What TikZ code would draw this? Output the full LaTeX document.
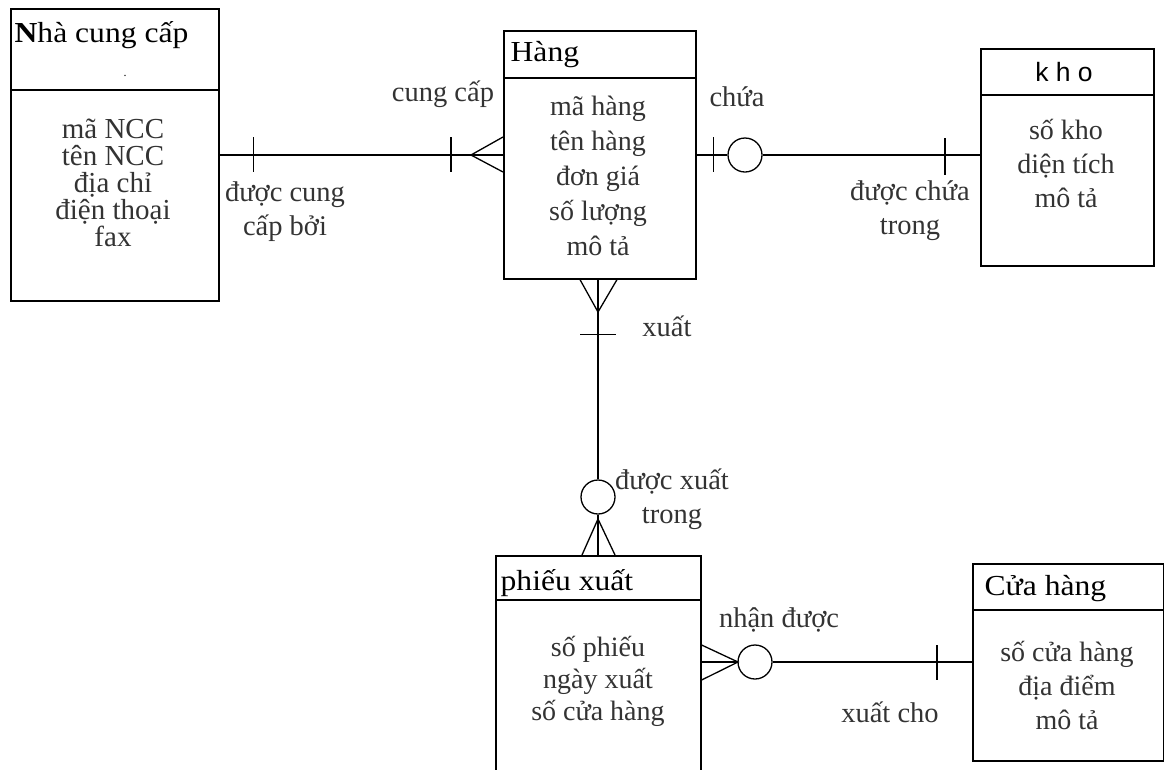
\documentclass[tikz,border=0pt]{standalone}
\usepackage{fontspec}
\setmainfont{Liberation Serif}
\newfontfamily\sansf{Liberation Sans}
\newfontfamily\ttlf[FakeStretch=1.09]{Liberation Serif}
\usetikzlibrary{calc}
\definecolor{txt}{HTML}{333333}
\begin{document}
\begin{tikzpicture}[x=1pt,y=-1pt,line width=1.3pt,
  ebox/.style={draw,line width=1.6pt,anchor=north west,inner sep=0pt},
  ttl/.style={anchor=base west,inner sep=0pt,font=\ttlf\fontsize{29}{30}\selectfont,text=black},
  attr/.style={align=center,inner sep=0pt,text=txt},
  lbl/.style={align=center,inner sep=0pt,text=txt,font=\fontsize{28.5}{34}\selectfont},
  opt/.style={circle,draw,line width=1.3pt,minimum size=34pt,inner sep=0pt}]
\useasboundingbox (0,0) rectangle (1164,769);
% entities
\node[ebox,minimum width=208pt,minimum height=292pt] (ncc) at (10,8) {};
\node[ebox,minimum width=192pt,minimum height=248pt] (hang) at (503,30) {};
\node[ebox,minimum width=173pt,minimum height=217pt] (kho) at (980,48) {};
\node[ebox,minimum width=205pt,minimum height=220pt] (phieu) at (495,555) {};
\node[ebox,minimum width=191pt,minimum height=197pt] (cuahang) at (972,563) {};
% dividers
\coordinate (d1) at (0,90);
\coordinate (d2) at (0,78);
\coordinate (d3) at (0,95);
\coordinate (d4) at (0,600);
\coordinate (d5) at (0,610);
\draw[line width=1.6pt] (ncc.west|-d1) -- (ncc.east|-d1);
\draw[line width=1.6pt] (hang.west|-d2) -- (hang.east|-d2);
\draw[line width=1.6pt] (kho.west|-d3) -- (kho.east|-d3);
\draw[line width=1.6pt] (phieu.west|-d4) -- (phieu.east|-d4);
\draw[line width=1.6pt] (cuahang.west|-d5) -- (cuahang.east|-d5);
% titles
\node[ttl] (t1) at (14,42) {\textbf{N}hà cung cấp};
\node[inner sep=0pt,font=\fontsize{12}{12}\selectfont] (t1dot) at (125,76) {.};
\node[ttl] (t2) at (510,61) {Hàng};
\node[inner sep=0pt,font=\sansf\fontsize{26.5}{27}\selectfont] (t3) at (1064,72) {k h o};
\node[ttl] (t4) at (500,590) {phiếu xuất};
\node[ttl] (t5) at (984,595) {Cửa hàng};
% attributes
\node[attr,font=\fontsize{29}{27}\selectfont] (a1) at (113,183) {mã NCC\\tên NCC\\địa chỉ\\điện thoại\\fax};
\node[attr,font=\fontsize{28}{35}\selectfont] (a2) at (598,176) {mã hàng\\tên hàng\\đơn giá\\số lượng\\mô tả};
\node[attr,font=\fontsize{28}{34}\selectfont] (a3) at (1066,163) {số kho\\diện tích\\mô tả};
\node[attr,font=\fontsize{28}{32}\selectfont] (a4) at (598,681) {số phiếu\\ngày xuất\\số cửa hàng};
\node[attr,font=\fontsize{28}{34}\selectfont] (a5) at (1067,685) {số cửa hàng\\địa điểm\\mô tả};
% connector 1: ncc - hang
\coordinate (y1) at (0,155);
\coordinate (cf1) at (471,155);
\draw (ncc.east|-y1) -- (hang.west|-y1);
\draw ($(ncc.east|-y1)+(34,-18)$) -- ++(0,35);
\draw ($(hang.west|-y1)+(-52,-18)$) -- ++(0,35);
\draw ($(hang.west|-y1)+(0,-18)$) -- (cf1) -- ($(hang.west|-y1)+(0,17)$);
\node[lbl] (l1) at (443,94) {cung cấp};
\node[lbl] (l2) at (285,212) {được cung\\cấp bởi};
% connector 2: hang - kho
\node[opt] (o1) at (745,155) {};
\draw (hang.east|-o1) -- (o1);
\draw (o1) -- (kho.west|-o1);
\draw ($(hang.east|-o1)+(17,-18)$) -- ++(0,35);
\draw ($(kho.west|-o1)+(-35,-17)$) -- ++(0,37);
\node[lbl] (l3) at (737,97) {chứa};
\node[lbl] (l4) at (910,211) {được chứa\\trong};
% connector 3: hang - phieu
\node[opt] (o2) at (598,497) {};
\coordinate (cf2) at (598,312);
\coordinate (cf3) at (598,519);
\draw (hang.south-|o2) -- (o2);
\draw (o2) -- (phieu.north-|o2);
\draw ($(hang.south-|o2)+(-18,0)$) -- (cf2) -- ($(hang.south-|o2)+(19,0)$);
\draw ($(hang.south-|o2)+(-18,55)$) -- ++(36,0);
\draw ($(phieu.north-|o2)+(-16,0)$) -- (cf3) -- ($(phieu.north-|o2)+(17,0)$);
\node[lbl] (l5) at (667,326) {xuất};
\node[lbl] (l6) at (672,499) {được xuất\\trong};
% connector 4: phieu - cuahang
\node[opt] (o3) at (755,662) {};
\coordinate (cf4) at (738,662);
\draw (phieu.east|-o3) -- (o3);
\draw (o3) -- (cuahang.west|-o3);
\draw ($(phieu.east|-o3)+(0,-17)$) -- (cf4) -- ($(phieu.east|-o3)+(0,18)$);
\draw ($(cuahang.west|-o3)+(-35,-17)$) -- ++(0,35);
\node[lbl] (l7) at (779,620) {nhận được};
\node[lbl] (l8) at (890,712) {xuất cho};
\end{tikzpicture}
\end{document}
